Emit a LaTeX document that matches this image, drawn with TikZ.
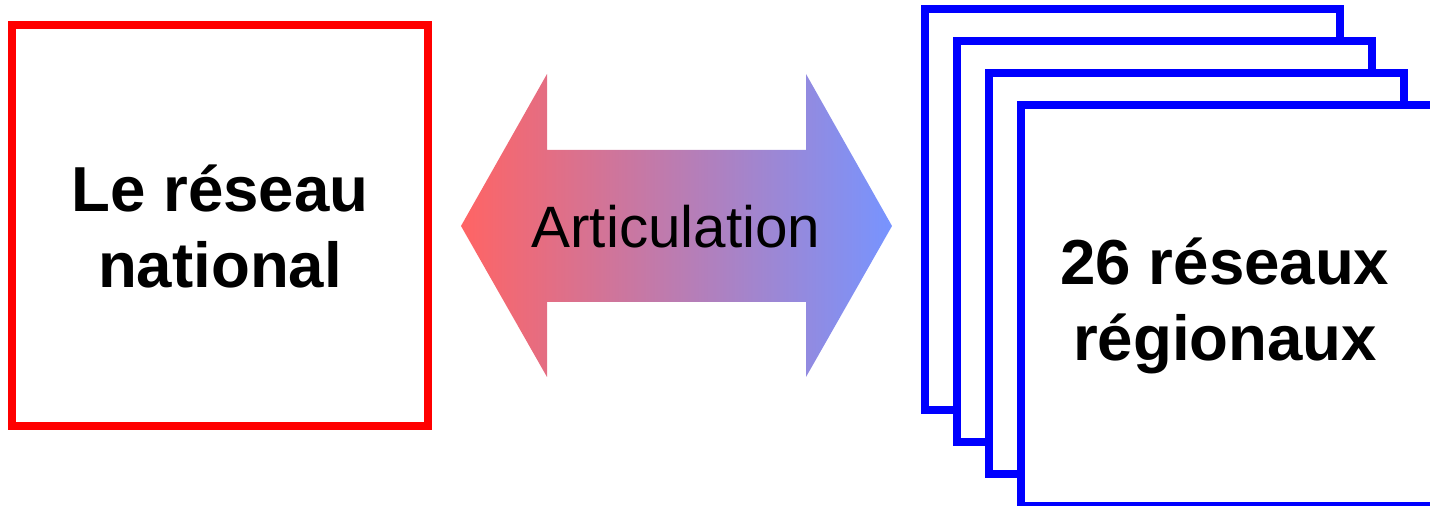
\documentclass[tikz,border=0pt]{standalone}
\usepackage{fontspec}
\setmainfont{Liberation Sans}
\definecolor{arleft}{RGB}{255,100,100}
\definecolor{armid}{RGB}{200,126,188}
\definecolor{arright}{RGB}{119,148,255}
\begin{document}
\begin{tikzpicture}[x=0.5pt,y=-0.5pt,
        netbox/.style={line width=4pt,fill=white},
        boxlabel/.style={font=\fontsize{31.8}{38}\selectfont\bfseries,align=center}]
    \useasboundingbox (0,0) rectangle (1430,506);
    % national network
    \draw[netbox,draw=red] (12,25.5) rectangle (428.3,426);
    \node[boxlabel] (national) at (220,226) {Le réseau\\national};
    % regional networks, stacked
    \foreach \k in {0,...,3} {
        \draw[netbox,draw=blue] (924.5+32*\k,9.5+32*\k) rectangle ++(415.5,400.5);
    }
    \node[boxlabel] (regional) at (1225,306) {26 réseaux\\régionaux};
    % double arrow in between
    \shade[left color=arleft,middle color=armid,right color=arright]
        (461,226) -- (547,74) -- (547,150) -- (806,150) -- (806,74)
        -- (892,226) -- (806,377) -- (806,302) -- (547,302) -- (547,377) -- cycle;
    \node[font=\fontsize{29.2}{34}\selectfont] (artic) at (676,227) {Articulation};
\end{tikzpicture}
\end{document}
